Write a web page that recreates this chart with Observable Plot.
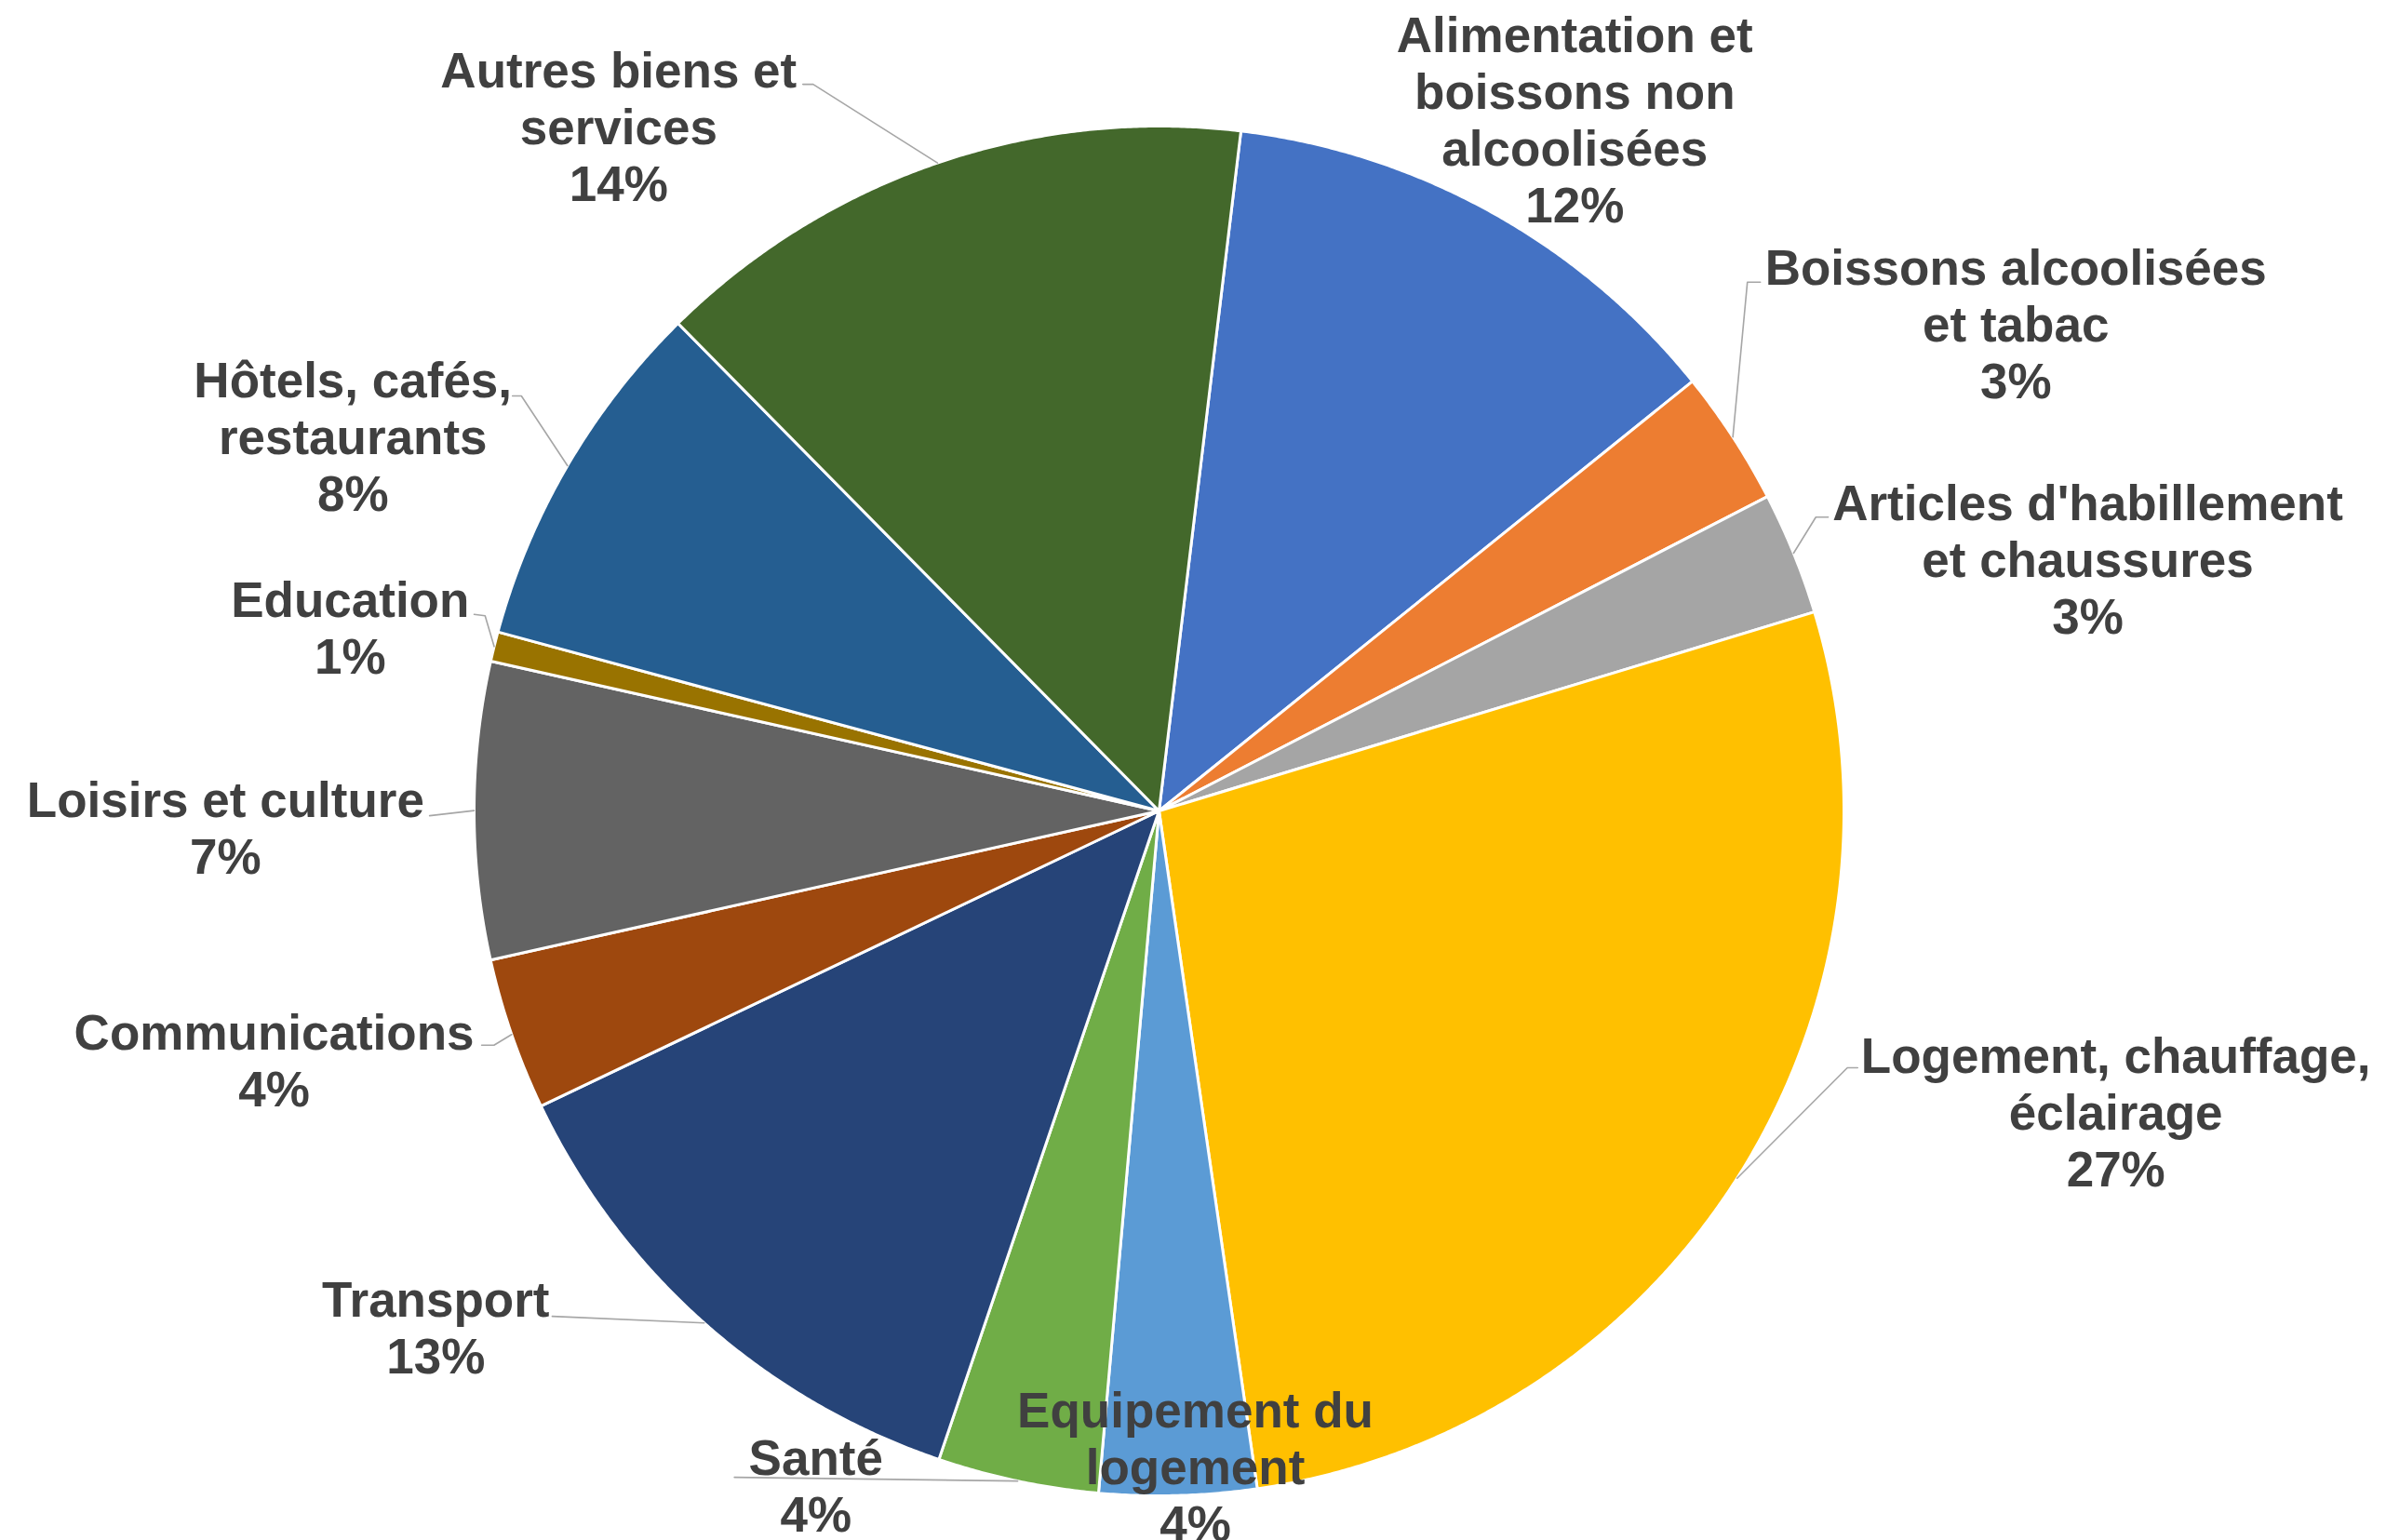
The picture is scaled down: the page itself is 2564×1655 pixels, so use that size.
<!DOCTYPE html>
<html>
<head>
<meta charset="utf-8">
<script src="https://cdn.jsdelivr.net/npm/d3@7"></script>
<script src="https://cdn.jsdelivr.net/npm/@observablehq/plot@0.6"></script>
<style>
  html, body { margin: 0; padding: 0; background: #ffffff; }
  #chart svg { display: block; }
</style>
</head>
<body>
<div id="chart"></div>
<script>
// ---- Data ----
const categories = [
  "Alimentation et boissons non alcoolisées",
  "Boissons alcoolisées et tabac",
  "Articles d'habillement et chaussures",
  "Logement, chauffage, éclairage",
  "Equipement du logement",
  "Santé",
  "Transport",
  "Communications",
  "Loisirs et culture",
  "Education",
  "Hôtels, cafés, restaurants",
  "Autres biens et services"
];
const values = [12.3, 3.2, 2.9, 27.4, 3.7, 3.8, 12.7, 3.6, 7.0, 0.7, 8.4, 14.3];
const labelLines = [
  "Alimentation et\nboissons non\nalcoolisées",
  "Boissons alcoolisées\net tabac",
  "Articles d'habillement\net chaussures",
  "Logement, chauffage,\néclairage",
  "Equipement du\nlogement",
  "Santé",
  "Transport",
  "Communications",
  "Loisirs et culture",
  "Education",
  "Hôtels, cafés,\nrestaurants",
  "Autres biens et\nservices"
];
const colors = ["#4472C4", "#ED7D31", "#A5A5A5", "#FFC000", "#5B9BD5", "#70AD47",
                "#264478", "#9E480E", "#636363", "#997300", "#255E91", "#43682B"];

// ---- Layout (in pie-radius units, centre = 0,0, y downward) ----
const firstSliceDeg = 6.87;
const labelPos = [
  [0.607, -1.010], [1.251, -0.712], [1.356, -0.368], [1.397, 0.439],
  [0.053, 0.957], [-0.501, 0.985], [-1.056, 0.754], [-1.292, 0.363],
  [-1.363, 0.024], [-1.181, -0.268], [-1.177, -0.548], [-0.789, -1.000]
];
const leaderPts = [
  null,
  [[0.878, -0.772], [0.859, -0.772]],
  [[0.977, -0.429], [0.959, -0.429]],
  [[1.020, 0.375], [1.005, 0.375]],
  null,
  [[-0.620, 0.973]],
  [[-0.886, 0.738]],
  [[-0.989, 0.342], [-0.971, 0.342]],
  [[-1.065, 0.007]],
  [[-1.000, -0.287], [-0.984, -0.285]],
  [[-0.944, -0.606], [-0.931, -0.606]],
  [[-0.520, -1.061], [-0.505, -1.061]]
];

// ---- Build ----
const W = 2564, H = 1655;
const start = firstSliceDeg * Math.PI / 180;
const total = d3.sum(values);
const arcs = d3.pie().sort(null).startAngle(start).endAngle(start + 2 * Math.PI)(values);

const slicePts = [];
arcs.forEach((a, i) => {
  slicePts.push({cat: categories[i], x: 0, y: 0});
  const n = Math.max(2, Math.ceil((a.endAngle - a.startAngle) / (Math.PI / 720)));
  for (let k = 0; k <= n; k++) {
    const t = a.startAngle + (a.endAngle - a.startAngle) * k / n;
    slicePts.push({cat: categories[i], x: Math.sin(t), y: -Math.cos(t)});
  }
});

const labels = arcs.map((a, i) => ({
  x: labelPos[i][0], y: labelPos[i][1],
  text: labelLines[i] + "\n" + Math.round(values[i] / total * 100) + "%"
}));

const leaders = [];
arcs.forEach((a, i) => {
  if (!leaderPts[i]) return;
  leaderPts[i].forEach(p => leaders.push({id: i, x: p[0], y: p[1]}));
  const m = (a.startAngle + a.endAngle) / 2;
  leaders.push({id: i, x: Math.sin(m), y: -Math.cos(m)});
});

const R = 736, CX = 1245, CY = 871;
const chart = Plot.plot({
  width: W, height: H,
  margin: 0,
  style: {background: "#ffffff"},
  x: {axis: null, domain: [-CX / R, (W - CX) / R], range: [0, W]},
  y: {axis: null, domain: [-CY / R, (H - CY) / R], range: [0, H]},
  color: {domain: categories, range: colors},
  marks: [
    Plot.line(slicePts, {x: "x", y: "y", z: "cat", fill: "cat", stroke: "#ffffff",
      strokeWidth: 3, strokeLinejoin: "round", curve: "linear-closed"}),
    Plot.line(leaders, {x: "x", y: "y", z: "id", stroke: "#a6a6a6", strokeWidth: 1.6}),
    Plot.text(labels, {x: "x", y: "y", text: "text", fontSize: 53, fontWeight: "bold",
      fontFamily: "'Liberation Sans', Arial, sans-serif", fill: "#404040",
      lineHeight: 1.15, textAnchor: "middle", lineAnchor: "middle"})
  ]
});
document.getElementById("chart").appendChild(chart);
</script>
</body>
</html>
